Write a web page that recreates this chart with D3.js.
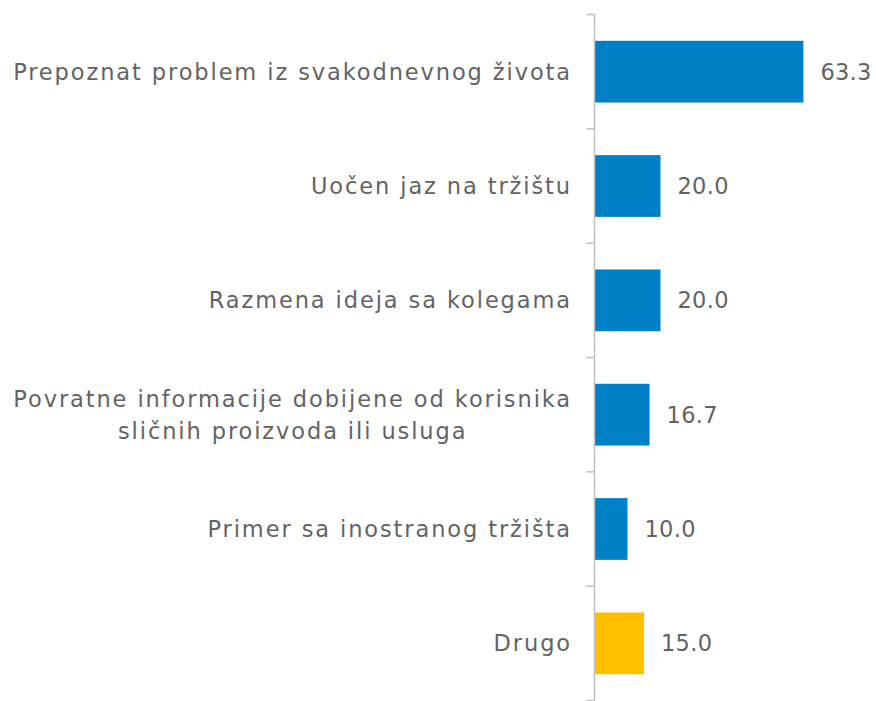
<!DOCTYPE html>
<html>
<head>
<meta charset="utf-8">
<script src="https://cdn.jsdelivr.net/npm/d3@7"></script>
<style>
  body { margin: 0; background: #fff; }
  svg text { font-family: "DejaVu Sans", sans-serif; fill: #636363; }
</style>
</head>
<body>
<div id="chart"></div>
<script>
// categories and values (percent)
var categories = [
    ["Prepoznat problem iz svakodnevnog života"],
    ["Uočen jaz na tržištu"],
    ["Razmena ideja sa kolegama"],
    ["Povratne informacije dobijene od korisnika", "sličnih proizvoda ili usluga"],
    ["Primer sa inostranog tržišta"],
    ["Drugo"]
];
var values = [63.3, 20.0, 20.0, 16.7, 10.0, 15.0];
var barColors = ["#0080C6", "#0080C6", "#0080C6", "#0080C6", "#0080C6", "#FFC000"];

var width = 876, height = 701;
var axisX = 594.5;
var labelRight = 572;

var svg = d3.select("#chart").append("svg")
    .attr("width", width)
    .attr("height", height);

var idx = d3.range(values.length);

var y = d3.scaleBand()
    .domain(idx)
    .range([14.5, 700.5])
    .paddingInner(0.46)
    .paddingOuter(0.23);

var x = d3.scaleLinear()
    .domain([0, 70])
    .range([axisX, axisX + 70 * 3.3]);

// bars
svg.selectAll("rect.bar")
    .data(idx)
    .enter()
    .append("rect")
    .attr("class", "bar")
    .attr("x", x(0))
    .attr("y", function(i){ return y(i) })
    .attr("width", function(i){ return x(values[i]) - x(0) })
    .attr("height", y.bandwidth())
    .style("fill", function(i){ return barColors[i] });

// axis line + ticks at category boundaries
var step = (700.5 - 14.5) / values.length;
svg.append("line")
    .attr("x1", axisX).attr("x2", axisX)
    .attr("y1", 14.5).attr("y2", 700.5)
    .style("stroke", "#BFBFBF")
    .style("stroke-width", 1.5);

svg.selectAll("line.tick")
    .data(d3.range(values.length + 1))
    .enter()
    .append("line")
    .attr("class", "tick")
    .attr("x1", axisX - 8).attr("x2", axisX)
    .attr("y1", function(i){ return 14.5 + i * step })
    .attr("y2", function(i){ return 14.5 + i * step })
    .style("stroke", "#BFBFBF")
    .style("stroke-width", 1.5);

// category labels (multi-line ones are centred as a block, right edge at labelRight)
var labels = svg.selectAll("text.cat")
    .data(idx)
    .enter()
    .append("text")
    .attr("class", "cat")
    .attr("font-size", 22.5)
    .attr("letter-spacing", 1.9)
    .attr("y", function(i){ return y(i) + y.bandwidth() / 2 });

labels.selectAll("tspan")
    .data(function(i){
        var lines = categories[i];
        return lines.map(function(t, k){ return {t: t, k: k, n: lines.length} });
    })
    .enter()
    .append("tspan")
    .attr("x", labelRight)
    .attr("text-anchor", "end")
    .attr("dy", function(d){
        if (d.k == 0) return ((-(d.n - 1) * 32 / 2) + 8) + "px";
        return "32px";
    })
    .text(function(d){ return d.t });

labels.each(function(i){
    if (categories[i].length < 2) return;
    var spans = d3.select(this).selectAll("tspan");
    var maxW = 0;
    spans.each(function(){ maxW = Math.max(maxW, this.getComputedTextLength()) });
    spans.attr("text-anchor", "middle").attr("x", labelRight - maxW / 2);
});

// value labels
svg.selectAll("text.val")
    .data(idx)
    .enter()
    .append("text")
    .attr("class", "val")
    .attr("font-size", 22.5)
    .attr("letter-spacing", 0.3)
    .attr("x", function(i){ return x(values[i]) + 17 })
    .attr("y", function(i){ return y(i) + y.bandwidth() / 2 + 8 })
    .text(function(i){ return values[i].toFixed(1) });
</script>
</body>
</html>
